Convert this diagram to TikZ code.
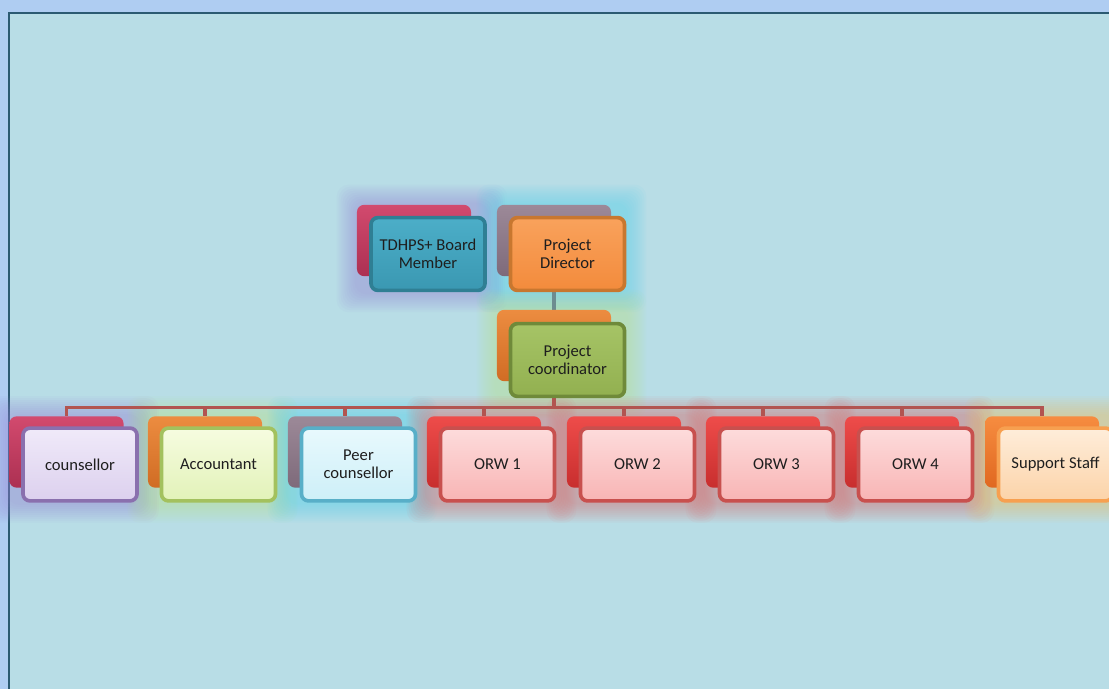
\documentclass[tikz,border=0pt]{standalone}
\usepackage{fontspec}
\setmainfont{Carlito}
\usetikzlibrary{positioning}
\pgfdeclarelayer{bg}
\pgfdeclarelayer{glow}
\pgfdeclarelayer{lines}
\pgfsetlayers{bg,glow,lines,main}

\definecolor{framebg}{HTML}{AFCDF2}
\definecolor{panelbg}{HTML}{B8DDE6}
\definecolor{paneledge}{HTML}{2B5A72}
\definecolor{txtgray}{HTML}{1E1E1E}
\definecolor{busred}{HTML}{B25450}
\definecolor{stemgray}{HTML}{6D8C90}
% back box colours
\definecolor{crimsonT}{HTML}{D24A6E}\definecolor{crimsonB}{HTML}{AC3052}
\definecolor{mauveT}{HTML}{9C8998}\definecolor{mauveB}{HTML}{7E6A7A}
\definecolor{orangeT}{HTML}{EC8C40}\definecolor{orangeB}{HTML}{D06C24}
\definecolor{redT}{HTML}{EE4C4A}\definecolor{redB}{HTML}{C82E2E}
\definecolor{flameT}{HTML}{F68C40}\definecolor{flameB}{HTML}{E06820}
% front box colours
\definecolor{tealT}{HTML}{4CAEC8}\definecolor{tealB}{HTML}{3A98B2}\definecolor{tealD}{HTML}{2F7F94}
\definecolor{amberT}{HTML}{F9A25C}\definecolor{amberB}{HTML}{F38B3C}\definecolor{amberD}{HTML}{C8772F}
\definecolor{oliveT}{HTML}{A6C466}\definecolor{oliveB}{HTML}{92B050}\definecolor{oliveD}{HTML}{6F8A3A}
\definecolor{lilacT}{HTML}{F0EAF9}\definecolor{lilacB}{HTML}{DCD0EE}\definecolor{lilacD}{HTML}{8A70AE}
\definecolor{limeT}{HTML}{F6FCE0}\definecolor{limeB}{HTML}{E2F2B8}\definecolor{limeD}{HTML}{A3C15E}
\definecolor{iceT}{HTML}{E8F9FD}\definecolor{iceB}{HTML}{CDEFF8}\definecolor{iceD}{HTML}{58AFC8}
\definecolor{pinkT}{HTML}{FDDCDC}\definecolor{pinkB}{HTML}{F8B4B4}\definecolor{pinkD}{HTML}{C8504E}
\definecolor{peachT}{HTML}{FEEDDA}\definecolor{peachB}{HTML}{FCD3A8}\definecolor{peachD}{HTML}{F7A050}
% glow colours
\definecolor{gpurple}{HTML}{9886D8}
\definecolor{gcyan}{HTML}{55D6F0}
\definecolor{ggreen}{HTML}{B6E48C}
\definecolor{gred}{HTML}{E06A6A}
\definecolor{gyellow}{HTML}{F2C060}

\tikzset{
  backbox/.style={rounded corners=0.175cm, minimum width=2.85cm,
    minimum height=1.78cm, inner sep=0pt, top color=#1T, bottom color=#1B},
  frontbox/.style={rounded corners=0.175cm, minimum width=2.85cm,
    minimum height=1.82cm, inner sep=0pt, align=center, line width=2.6pt,
    draw=#1D, top color=#1T, bottom color=#1B, text=txtgray,
    font=\fontsize{11.8}{13}\selectfont},
  busline/.style={draw=busred, line width=2.6pt},
  stemline/.style={draw=stemgray, line width=2.6pt},
}

\begin{document}
\begin{tikzpicture}[x=0.025cm, y=-0.025cm]
  \useasboundingbox (0,0) rectangle (1109,689);

  % Frame and panel
  \begin{pgfonlayer}{bg}
    \fill[framebg] (0,0) rectangle (1109,689);
    \filldraw[fill=panelbg, draw=paneledge, line width=2pt] (9,13) rectangle (1140,720);
  \end{pgfonlayer}

  % Top of the chart
  \node[backbox=crimson] (btd) at (414,240.5) {};
  \node[frontbox=teal] (ftd) at (428,254) {TDHPS+ Board\\Member};
  \node[backbox=mauve] (bpd) at (554,240.5) {};
  \node[frontbox=amber] (fpd) at (567.5,254) {Project\\Director};
  \node[backbox=orange] (bpc) at (554,345.5) {};
  \node[frontbox=olive] (fpc) at (567.5,360) {Project\\coordinator};

  % Staff row
  \foreach \n/\x/\bs/\fs/\t in {cou/66.5/crimson/lilac/{counsellor},
      acc/205/orange/lime/{Accountant},
      peer/345/mauve/ice/{Peer\\counsellor},
      orwa/484/red/pink/{ORW 1},
      orwb/624/red/pink/{ORW 2},
      orwc/763/red/pink/{ORW 3},
      orwd/902/red/pink/{ORW 4},
      sup/1042/flame/peach/{Support Staff}} {
    \node[backbox=\bs] (b\n) at (\x,452) {};
    \node[frontbox=\fs] (f\n) at ({\x+13.5},464.5) {\t};
  }

  % Glows
  \begin{pgfonlayer}{glow}
    \foreach \b/\f/\c in {btd/ftd/gpurple, bpd/fpd/gcyan, bpc/fpc/ggreen,
        bcou/fcou/gpurple, bacc/facc/ggreen, bpeer/fpeer/gcyan,
        borwa/forwa/gred, borwb/forwb/gred, borwc/forwc/gred,
        borwd/forwd/gred, bsup/fsup/gyellow} {
      \foreach \d in {2,4,...,20}
        \fill[\c, opacity=0.055, rounded corners=0.3cm]
          ([shift={(-\d,-\d)}]\b.north west) rectangle ([shift={(\d,\d)}]\f.south east);
    }
  \end{pgfonlayer}

  % Connectors
  \begin{pgfonlayer}{lines}
    \draw[stemline] (bpd.south) -- (bpc.north);
    \foreach \n in {cou,acc,peer,orwa,orwb,orwc,orwd,sup}
      \draw[busline] (bpc.south) -- ++(0,26) -| (b\n.north);
  \end{pgfonlayer}
\end{tikzpicture}
\end{document}
